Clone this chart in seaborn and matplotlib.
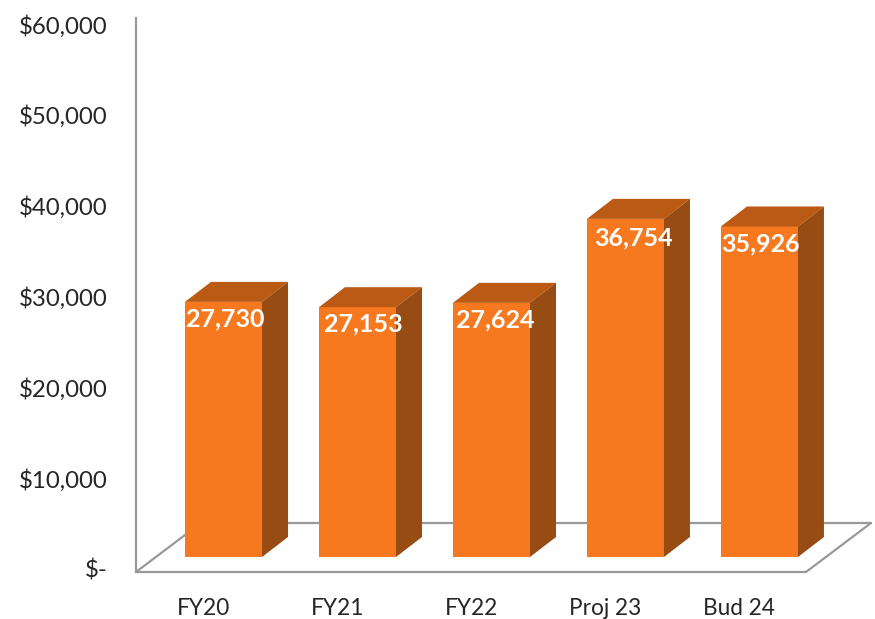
import matplotlib
matplotlib.use('Agg')
import matplotlib.pyplot as plt
from matplotlib.patches import Polygon
from matplotlib.lines import Line2D
from matplotlib.transforms import ScaledTranslation
import pandas as pd
import seaborn as sns

categories = ['FY20', 'FY21', 'FY22', 'Proj 23', 'Bud 24']
values = [27730, 27153, 27624, 36754, 35926]
y_ticks = [0, 10000, 20000, 30000, 40000, 50000, 60000]
y_tick_labels = ['$-', '$10,000', '$20,000', '$30,000', '$40,000', '$50,000', '$60,000']

FRONT = '#F6791F'
TOP = '#BA5A14'
SIDE = '#974C13'
GRID = '#999999'
TEXT = '#262626'
W, H = 875, 619

sns.set_theme(style='white')
plt.rcParams['font.family'] = ['Lato', 'DejaVu Sans']

df = pd.DataFrame({'cat': categories, 'val': values})

fig = plt.figure(figsize=(W / 100, H / 100), dpi=100)
box = [136 / W, 1 - 572 / H, (805 - 136) / W, (572 - 18) / H]

# value axis has its own scale, the 3D bars in the source are drawn a bit taller
ax_y = fig.add_axes(box, zorder=1)
ax_y.set_xticks([])
ax_y.set_ylim(-3 / 0.00908, (569 - 18) / 0.00908)
ax_y.set_yticks(y_ticks)
ax_y.set_yticklabels(y_tick_labels, fontsize=17.3, color=TEXT)
ax_y.tick_params(axis='y', length=0, pad=20.3)
ax_y.patch.set_visible(False)
for s in ['top', 'right', 'bottom']:
    ax_y.spines[s].set_visible(False)
ax_y.spines['left'].set_color(GRID)
ax_y.spines['left'].set_linewidth(1.6)

ax = fig.add_axes(box, zorder=2)
ax.patch.set_visible(False)
sns.barplot(data=df, x='cat', y='val', color=FRONT, saturation=1, width=0.575, linewidth=0, ax=ax, zorder=3)
ax.set_xlim(-0.653, 4.34)
ax.set_ylim(-15 / 0.0092, (557 - 18) / 0.0092)
ax.set_xlabel('')
ax.set_ylabel('')
ax.set_yticks([])
sns.despine(ax=ax, left=True, bottom=True)
ax.tick_params(axis='x', length=0, pad=19, labelsize=16.3, labelcolor=TEXT)

# category labels sit left of the bars in the source
left = ScaledTranslation(-20 / 100, 0, fig.dpi_scale_trans)
for lab in ax.get_xticklabels():
    lab.set_transform(lab.get_transform() + left)

def px(x, y):
    return fig.transFigure.inverted().transform(ax.transData.transform((x, y)))

def floor_line(x0, y0, x1, y1):
    fig.add_artist(Line2D([x0 / W, x1 / W], [1 - y0 / H, 1 - y1 / H], color=GRID, lw=1.6, zorder=0))

# floor outline, behind the axes
floor_line(136, 572, 806, 572)
floor_line(806, 572, 871, 523)
floor_line(190, 523, 871, 523)
floor_line(136, 572, 185, 535)

# depth of the bars in pixels, and hand placed data labels
dx, dy = 26 / W, 20 / H
label_dx = [2, 6, 4, 8, 1]
label_dy = [-17, -17, -17, -19, -17]
for bar, val, ox, oy in zip(ax.patches, values, label_dx, label_dy):
    x0, x1 = bar.get_x(), bar.get_x() + bar.get_width()
    l, b = px(x0, 0)
    r, t = px(x1, val)
    ax.add_artist(Polygon([(l, t), (l + dx, t + dy), (r + dx, t + dy), (r, t)], closed=True, fc=TOP, ec='none',
                          transform=fig.transFigure, zorder=4, clip_on=False))
    ax.add_artist(Polygon([(r, b), (r, t), (r + dx, t + dy), (r + dx, b + dy)], closed=True, fc=SIDE, ec='none',
                          transform=fig.transFigure, zorder=4, clip_on=False))
    ax.annotate(f'{val:,}', ((x0 + x1) / 2, val), xytext=(ox * 0.72, oy * 0.72), textcoords='offset points',
                ha='center', va='center', color='white', fontsize=18, fontweight='bold', zorder=6)

fig.savefig('out.png', dpi=100, facecolor='white')
